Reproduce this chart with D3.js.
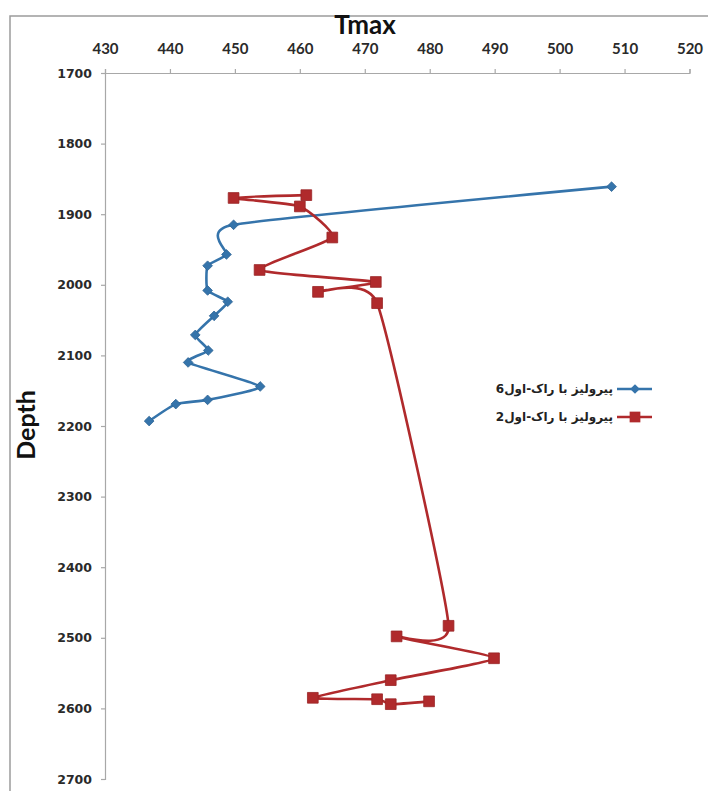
<!DOCTYPE html>
<html>
<head>
<meta charset="utf-8">
<script src="https://cdn.jsdelivr.net/npm/d3@7"></script>
<style>
  body { margin: 0; background: #fff; }
  svg { display: block; }
</style>
</head>
<body>
<svg></svg>
<script>
// Tmax vs depth, two wells
const xTicks = [430, 440, 450, 460, 470, 480, 490, 500, 510, 520];
const yTicks = [1700, 1800, 1900, 2000, 2100, 2200, 2300, 2400, 2500, 2600, 2700];

const names = ['پیرولیز با راک-اول6', 'پیرولیز با راک-اول2'];

const tmax6 = [508, 449.8, 448.7, 445.8, 445.8, 448.9, 446.8, 443.9, 445.9, 442.8, 453.9, 445.8, 440.9, 436.8];
const depth6 = [1861, 1915, 1957, 1973, 2008, 2024, 2044, 2071, 2093, 2110, 2144, 2163, 2169, 2193];

const tmax2 = [461, 449.8, 460, 465, 453.8, 471.7, 462.8, 471.9, 482.9, 474.9, 489.9, 474, 462, 471.9, 474, 479.9];
const depth2 = [1873, 1877, 1889, 1933, 1979, 1996, 2010, 2026, 2483, 2498, 2529, 2560, 2585, 2587, 2594, 2590];

const width = 708;
const height = 791;

let svg = d3.select('svg')
    .attr('width', width)
    .attr('height', height);

let xScale = d3.scaleLinear().domain([430, 520]).range([105, 689.5]);
let yScale = d3.scaleLinear().domain([1700, 2700]).range([73, 779]);

// outer chart border (left + top, rest is off the picture)
svg.append('path')
    .attr('d', 'M10,' + height + ' L10,16 L' + width + ',16')
    .attr('fill', 'none')
    .attr('stroke', '#9c9c9c')
    .attr('stroke-width', 1.5);

// axes
let xAxis = d3.axisTop(xScale).tickValues(xTicks).tickSize(4).tickPadding(15);
let gx = svg.append('g')
    .attr('transform', 'translate(0,' + yScale(1700) + ')')
    .call(xAxis);
gx.selectAll('text')
    .style('font-family', 'Lato, "Open Sans", sans-serif')
    .style('font-weight', 'bold')
    .style('font-size', '15px')
    .attr('fill', '#2a2a2a');

let yAxis = d3.axisLeft(yScale).tickValues(yTicks).tickFormat(d3.format('d')).tickSize(4).tickPadding(9);
let gy = svg.append('g')
    .attr('transform', 'translate(' + xScale(430) + ',0)')
    .call(yAxis);
gy.selectAll('text')
    .style('font-family', '"DejaVu Sans", sans-serif')
    .style('font-weight', 'bold')
    .style('font-size', '12.5px')
    .attr('fill', '#2a2a2a');

svg.selectAll('.domain, .tick line')
    .attr('stroke', '#a8a8a8')
    .attr('stroke-width', 1.2);

// titles
svg.append('text')
    .attr('x', 365)
    .attr('y', 34)
    .attr('text-anchor', 'middle')
    .style('font-family', 'Lato, "Open Sans", sans-serif')
    .style('font-weight', 'bold')
    .style('font-size', '26px')
    .attr('fill', '#111')
    .text('Tmax');

svg.append('text')
    .attr('transform', 'translate(35,425) rotate(-90)')
    .attr('text-anchor', 'middle')
    .style('font-family', 'Lato, "Open Sans", sans-serif')
    .style('font-weight', 'bold')
    .style('font-size', '25px')
    .attr('fill', '#111')
    .text('Depth');

// series
const series = [
    { name: names[0], xs: tmax6, ys: depth6, color: '#3574ab', symbol: d3.symbolDiamond2, size: 60 },
    { name: names[1], xs: tmax2, ys: depth2, color: '#b02a2c', symbol: d3.symbolSquare, size: 115 }
];

// smoothed line, kept tight so long segments don't bow out
let line = d3.line()
    .x(d => xScale(d[0]))
    .y(d => yScale(d[1]))
    .curve(d3.curveCardinal.tension(0.5));

series.forEach(s => {
    let pts = s.xs.map((v, i) => [v, s.ys[i]]);
    svg.append('path')
        .datum(pts)
        .attr('d', line)
        .attr('fill', 'none')
        .attr('stroke', s.color)
        .attr('stroke-width', 2.6);

    svg.selectAll(null)
        .data(pts)
        .enter()
        .append('path')
        .attr('d', d3.symbol(s.symbol, s.size))
        .attr('transform', d => 'translate(' + xScale(d[0]) + ',' + yScale(d[1]) + ')')
        .attr('fill', s.color)
        .attr('stroke', d3.color(s.color).darker(0.4))
        .attr('stroke-width', 0.8);
});

// legend
let legend = svg.append('g');
series.forEach((s, i) => {
    let ly = 389 + i * 28;
    legend.append('line')
        .attr('x1', 617).attr('x2', 652)
        .attr('y1', ly).attr('y2', ly)
        .attr('stroke', s.color)
        .attr('stroke-width', 2.6);
    legend.append('path')
        .attr('d', d3.symbol(s.symbol, s.size))
        .attr('transform', 'translate(635,' + ly + ')')
        .attr('fill', s.color);
    legend.append('text')
        .attr('x', 613)
        .attr('y', ly + 4)
        .attr('text-anchor', 'end')
        .style('font-family', '"DejaVu Sans", sans-serif')
        .style('font-weight', 'bold')
        .style('font-size', '12px')
        .attr('fill', '#222')
        .text(s.name);
});
</script>
</body>
</html>
